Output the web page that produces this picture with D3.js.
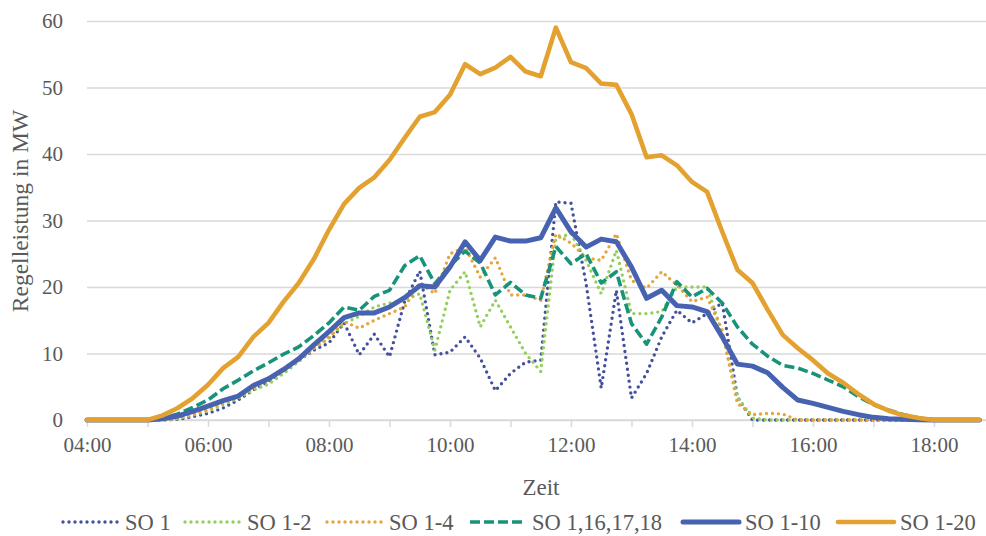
<!DOCTYPE html>
<html>
<head>
<meta charset="utf-8">
<script src="https://cdn.jsdelivr.net/npm/d3@7"></script>
<style>
  body { margin: 0; background: #fff; }
  svg text { font-family: "Liberation Serif", "DejaVu Serif", serif; fill: #595959; }
</style>
</head>
<body>
<figure id="regel" style="margin:0"></figure>
<script>
// categories: 15-min steps 04:00 .. 18:45
const times = [
  "04:00","04:15","04:30","04:45","05:00","05:15","05:30","05:45",
  "06:00","06:15","06:30","06:45","07:00","07:15","07:30","07:45",
  "08:00","08:15","08:30","08:45","09:00","09:15","09:30","09:45",
  "10:00","10:15","10:30","10:45","11:00","11:15","11:30","11:45",
  "12:00","12:15","12:30","12:45","13:00","13:15","13:30","13:45",
  "14:00","14:15","14:30","14:45","15:00","15:15","15:30","15:45",
  "16:00","16:15","16:30","16:45","17:00","17:15","17:30","17:45",
  "18:00","18:15","18:30","18:45"
];

const so1 = [
  0,0,0,0,0,0,0.1,0.5,
  1,1.8,3,4.5,5.8,7.3,9,10.5,
  11.6,14.6,9.8,12.9,9.5,17.8,22.4,9.8,
  10.2,12.5,9.3,4.4,7,8.7,9,32.8,
  32.6,20.5,4.8,19.5,3.3,7,12.5,16.5,
  14.6,16,17.6,3.5,0,0,0,0,
  0,0,0,0,0,0,0,0,
  0,0,0,0
];
const so1_2 = [
  0,0,0,0,0,0,0.2,0.7,
  1.4,2.3,3.3,4.5,5.4,7,8.8,10.8,
  12.5,14.5,15.6,17,17.6,18,19,10.5,
  19.5,22.3,14,18,14,10,7.3,27.3,
  28,24,19,25.5,16,16,16.3,20,
  20,20,13,3.5,0.3,0,0,0,
  0,0,0,0,0,0,0,0,
  0,0,0,0
];
const so1_4 = [
  0,0,0,0,0,0,0.3,0.8,
  1.6,2.6,3.5,4.8,6,7.4,9,10.8,
  12.3,14.8,13.8,15,16,17,20.6,19,
  25,26,21.5,24.4,18.8,18.8,18,28,
  26.6,24.4,24,28,21,19.8,22.3,20.3,
  17.8,18.5,13.5,2.5,0.8,1,0.9,0,
  0,0,0,0,0,0,0,0,
  0,0,0,0
];
const so1_16 = [
  0,0,0,0,0,0.3,0.9,1.9,
  3,4.7,6,7.4,8.6,9.9,11,12.7,
  14.6,17,16.5,18.6,19.5,23.2,24.7,20.5,
  23.2,25.4,23.6,18.8,20.7,18.8,18.3,26.1,
  23.5,25,20.6,22.3,14.5,11.4,15.5,20.8,
  18.5,19.8,17.6,14,11.4,9.6,8.2,7.8,
  7,6,5,3.5,2.3,1.5,0.8,0.3,
  0,0,0,0
];
const so1_10 = [
  0,0,0,0,0,0.2,0.6,1.3,
  2.1,2.9,3.6,5.2,6.2,7.6,9.2,11.3,
  13.3,15.4,16.1,16.1,17,18.4,20.2,20,
  23,26.8,24,27.5,26.9,26.9,27.4,31.9,
  28.3,26,27.2,26.8,23,18.3,19.5,17.2,
  17,16.3,12.5,8.4,8.1,7.1,4.9,3,
  2.5,1.9,1.3,0.8,0.4,0.2,0.1,0.05,
  0,0,0,0
];
const so1_20 = [
  0,0,0,0,0,0.7,1.8,3.3,
  5.3,7.8,9.5,12.5,14.6,17.8,20.6,24.2,
  28.6,32.5,34.9,36.5,39.1,42.4,45.6,46.3,
  48.9,53.5,52,53,54.6,52.4,51.7,59,
  53.8,52.9,50.6,50.4,46,39.5,39.8,38.3,
  35.8,34.3,28.3,22.6,20.6,16.6,12.8,10.8,
  9,7,5.6,3.9,2.4,1.4,0.7,0.3,
  0,0,0,0
];

const seriesNames = ["SO 1", "SO 1-2", "SO 1-4", "SO 1,16,17,18", "SO 1-10", "SO 1-20"];
const seriesValues = [so1, so1_2, so1_4, so1_16, so1_10, so1_20];
const xTickLabels = ["04:00","06:00","08:00","10:00","12:00","14:00","16:00","18:00"];
const yTicks = [0, 10, 20, 30, 40, 50, 60];

// look of each series
const styles = [
  { color: "#44509c", width: 3.4, dash: "0,6", cap: "round" },
  { color: "#94cf5c", width: 3.4, dash: "0,6", cap: "round" },
  { color: "#e5a53c", width: 3.4, dash: "0,6", cap: "round" },
  { color: "#17937a", width: 3.6, dash: "10,4", cap: "butt" },
  { color: "#4862b2", width: 5, dash: null, cap: "round" },
  { color: "#e3a12f", width: 4.6, dash: null, cap: "round" }
];

const W = 986, H = 536;
const toHours = s => +s.slice(0, 2) + (+s.slice(3)) / 60;

const svg = d3.select("#regel").append("svg")
  .attr("width", W).attr("height", H);

const x = d3.scaleLinear().domain([4, 18.86]).range([87, 986]);
const y = d3.scaleLinear().domain([0, 60]).range([420, 21]);

// gridlines
svg.append("g")
  .attr("transform", "translate(87,0)")
  .call(d3.axisLeft(y).tickValues(yTicks).tickSize(-(986 - 87)).tickFormat(""))
  .call(g => g.select(".domain").remove())
  .call(g => g.selectAll("line").attr("stroke", "#d9d9d9").attr("stroke-width", 1.5));

// y labels
svg.append("g")
  .attr("transform", "translate(87,0)")
  .call(d3.axisLeft(y).tickValues(yTicks).tickSize(0).tickPadding(24))
  .call(g => g.select(".domain").remove())
  .call(g => g.selectAll("text").style("font-size", "21px")
    .style("font-family", "'Liberation Serif', serif").attr("fill", "#595959"));

// x axis with hourly ticks
const hourTicks = d3.range(4, 19, 1);
svg.append("g")
  .attr("transform", "translate(0,420)")
  .call(d3.axisBottom(x).tickValues(hourTicks).tickSize(7).tickPadding(10)
    .tickFormat(h => xTickLabels.includes(d3.format("02")(h) + ":00") ? d3.format("02")(h) + ":00" : ""))
  .call(g => g.select(".domain").attr("stroke", "#d9d9d9").attr("stroke-width", 1.5)
    .attr("d", "M87,0H986"))
  .call(g => g.selectAll("line").attr("stroke", "#d9d9d9").attr("stroke-width", 1.5))
  .call(g => g.selectAll("text").style("font-size", "21px")
    .style("font-family", "'Liberation Serif', serif").attr("fill", "#595959"));

// lines
const line = d3.line()
  .x((d, i) => x(toHours(times[i])))
  .y(d => y(d));

seriesValues.forEach((vals, k) => {
  const s = styles[k];
  svg.append("path")
    .datum(vals)
    .attr("fill", "none")
    .attr("stroke", s.color)
    .attr("stroke-width", s.width)
    .attr("stroke-linejoin", "round")
    .attr("stroke-linecap", s.cap)
    .attr("stroke-dasharray", s.dash)
    .attr("d", line);
});

// axis titles
svg.append("text")
  .attr("transform", "translate(28,211) rotate(-90)")
  .attr("text-anchor", "middle")
  .style("font-size", "23.5px")
  .text("Regelleistung in MW");

svg.append("text")
  .attr("x", 541).attr("y", 495)
  .attr("text-anchor", "middle")
  .style("font-size", "23px")
  .text("Zeit");

// legend
const legendX = [63, 185, 327, 470, 683, 838];
const legend = svg.append("g");
seriesNames.forEach((name, k) => {
  const s = styles[k];
  const g = legend.append("g").attr("transform", `translate(${legendX[k]},522)`);
  g.append("line")
    .attr("x1", 0).attr("x2", 56).attr("y1", 0).attr("y2", 0)
    .attr("stroke", s.color)
    .attr("stroke-width", s.width)
    .attr("stroke-linecap", s.cap)
    .attr("stroke-dasharray", s.dash);
  g.append("text")
    .attr("x", 62).attr("y", 8)
    .style("font-size", "22.5px")
    .text(name);
});
</script>
</body>
</html>
